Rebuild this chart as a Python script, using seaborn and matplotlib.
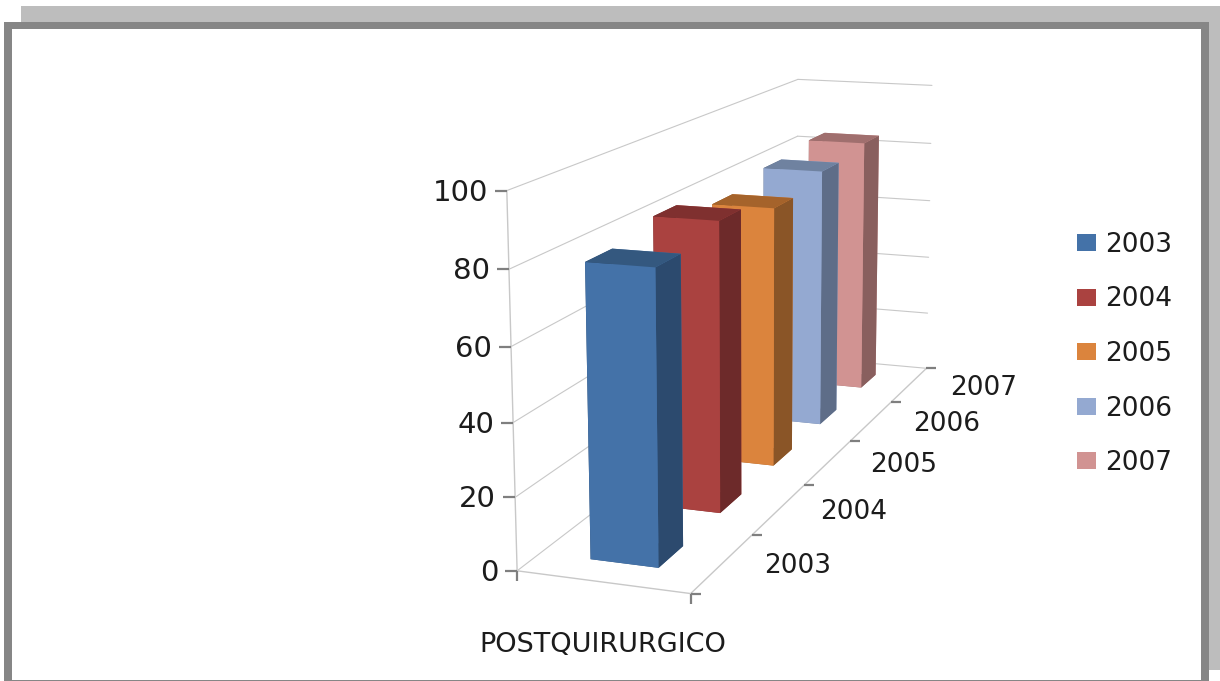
import numpy as np
import matplotlib
matplotlib.use("Agg")
import matplotlib.pyplot as plt
from matplotlib.patches import Rectangle, Patch
from mpl_toolkits.mplot3d import proj3d
import seaborn as sns

# Chart content
years = ["2003", "2004", "2005", "2006", "2007"]
values = [80, 83.4, 78.6, 82, 84]
category = "POSTQUIRURGICO"
z_ticks = [0, 20, 40, 60, 80, 100]

# Face shades of each series
front_colors = ["#4472A8", "#AA4240", "#DB843D", "#94A9D1", "#D19392"]
side_colors = ["#2C4A6E", "#6D2A2A", "#8A5527", "#5E6D88", "#895F5E"]
top_colors = ["#34587F", "#7F302F", "#A5632B", "#6F82A0", "#A06F6E"]

WIDTH, HEIGHT = 1220, 681
GRID = "#C8C8C8"
TICK = "#7F7F7F"
INK = "#1C1C1C"

sns.set_theme(style="white")
plt.rcParams["font.family"] = ["DejaVu Sans"]

fig = plt.figure(figsize=(WIDTH / 100, HEIGHT / 100), dpi=100)
fig.patch.set_facecolor("white")


def panel(x0, y0, x1, y1, colour, order):
    """Add a filled rectangle given in pixels from the top left corner."""
    fig.add_artist(Rectangle((x0 / WIDTH, 1 - y1 / HEIGHT), (x1 - x0) / WIDTH, (y1 - y0) / HEIGHT,
                             transform=fig.transFigure, fc=colour, ec="none", zorder=order))


# Card: drop shadow, grey border, white interior
panel(21, 6, 1220, 670, "#BDBDBD", -3)
panel(4, 22, 1209, 682, "#868686", -2)
panel(12.5, 29, 1201, 680, "white", -1)

# Square 3D axes placed so the projected box lands on the card
scale, centre_x, centre_y = 4462.17, 752.97, 294.83
side = scale * 0.185
left = centre_x - scale * 0.095
bottom_px = centre_y + scale * 0.095
ax = fig.add_axes([left / WIDTH, 1 - bottom_px / HEIGHT, side / WIDTH, side / HEIGHT],
                  projection="3d", computed_zorder=False)
ax.set_axis_off()
ax.patch.set_visible(False)
ax.set_proj_type("persp", focal_length=0.470)
ax.view_init(elev=13.146, azim=-70.49)
ax.set_box_aspect((0.482, 2.299, 1.0))

n = len(years)
ax.set_xlim(0, 1)
ax.set_ylim(0, n)
ax.set_zlim(0, 100)
ax.set_autoscale_on(False)

# Gridlines on the left and back walls
for z in z_ticks:
    ax.plot([0, 0], [0, n], [z, z], color=GRID, lw=0.8, zorder=1)
    ax.plot([0, 1], [n, n], [z, z], color=GRID, lw=0.8, zorder=1)

# Box edges: value axis and the two front floor edges
ax.plot([0, 0], [0, 0], [0, 100], color=GRID, lw=1.0, zorder=2)
ax.plot([0, 1], [0, 0], [0, 0], color=GRID, lw=1.0, zorder=2)
ax.plot([1, 1], [0, n], [0, 0], color=GRID, lw=1.0, zorder=2)

# Tick marks
for z in z_ticks:
    ax.plot([0], [0], [z], marker=0, ms=8.5, mew=1.6, color=TICK, ls="", zorder=3)
for i in range(n + 1):
    ax.plot([1], [i], [0], marker=1, ms=7.2, mew=1.6, color=TICK, ls="", zorder=3)
for x in (0, 1):
    ax.plot([x], [0], [0], marker=3, ms=7.2, mew=1.6, color=TICK, ls="", zorder=3)

# One bar per year, painted from the back row forward
for i, val in enumerate(values):
    faces = [top_colors[i], top_colors[i], front_colors[i], front_colors[i], side_colors[i], side_colors[i]]
    ax.bar3d([0.30], [i + 0.31], [0], 0.40, 0.38, val, color=faces, shade=False,
             linewidth=0, zorder=10 + n - i)


def to_plane(x, y, z):
    """Project a data point into the 2D coordinates of the axes."""
    px, py, _ = proj3d.proj_transform(x, y, z, ax.get_proj())
    return px, py


def label(text, point, offset, size, ha="center"):
    ax.annotate(text, xy=to_plane(*point), xycoords="data", xytext=offset, textcoords="offset pixels",
                ha=ha, va="center", fontsize=size, color=INK, annotation_clip=False, zorder=30)


for z in z_ticks:
    label(str(z), (0, 0, z), (-19, -2), 21, ha="right")
for i, year in enumerate(years):
    label(year, (1, i + 0.5, 0), (75, -3), 19)
label(category, (0.5, 0, 0), (0, -63), 19.5)

handles = [Patch(fc=c, ec="none") for c in front_colors]
fig.legend(handles, years, loc="upper left", bbox_to_anchor=(1077 / WIDTH, 1 - 232 / HEIGHT),
           frameon=False, fontsize=19, labelcolor=INK, borderpad=0, borderaxespad=0,
           handlelength=0.72, handleheight=0.64, handletextpad=0.34, labelspacing=1.08)

fig.savefig("out.png", dpi=100)
